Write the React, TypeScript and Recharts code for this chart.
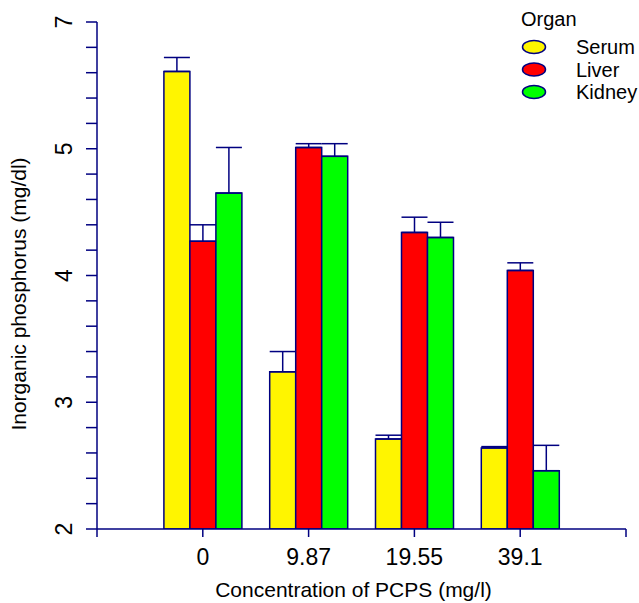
import React from 'react';
import { BarChart, Bar, XAxis, YAxis, ErrorBar, Legend } from 'recharts';

const categories = ['0', '9.87', '19.55', '39.1'];
const seriesNames = ['Serum', 'Liver', 'Kidney'];
const serum = [5.61, 3.24, 2.71, 2.64];
const serumErr = [0.11, 0.16, 0.03, 0.01];
const liver = [4.27, 5.01, 4.34, 4.04];
const liverErr = [0.13, 0.03, 0.12, 0.06];
const kidney = [4.65, 4.94, 4.3, 2.46];
const kidneyErr = [0.36, 0.1, 0.12, 0.2];

const yTickValues = [2, 3, 4, 5, 6];
const yTickLabels = ['2', '3', '4', '5', '7'];
const xTicks = [0, 1, 2, 3, 4, 5];

const NAVY = '#000080';
const FONT = '"Liberation Sans", Arial, Helvetica, sans-serif';
const colors = ['#FFF500', '#FF0000', '#00FF00'];

const data = categories.map((c, i) => ({
  pos: i + 1,
  label: c,
  serum: serum[i],
  serumErr: [0, serumErr[i]],
  liver: liver[i],
  liverErr: [0, liverErr[i]],
  kidney: kidney[i],
  kidneyErr: [0, kidneyErr[i]],
}));

const yMinor: number[] = [];
for (let i = 0; i <= 20; i++) yMinor.push(Math.round((2 + i * 0.2) * 10) / 10);

const YTick = (props: any) => {
  const { x, y, payload } = props;
  const idx = yTickValues.indexOf(payload.value);
  if (idx < 0) return <g />;
  return (
    <text
      x={x}
      y={y}
      transform={`rotate(-90 ${x} ${y})`}
      textAnchor="middle"
      fontSize={23}
      fill="#000"
      fontFamily={FONT}
    >
      {yTickLabels[idx]}
    </text>
  );
};

const renderLegend = (props: any) => {
  const payload = [...(props.payload || [])].sort(
    (a: any, b: any) => seriesNames.indexOf(a.value) - seriesNames.indexOf(b.value)
  );
  return (
    <svg width={139} height={110} style={{ fontFamily: FONT }}>
      <text x={21} y={26} fontSize={20} fill="#000">
        Organ
      </text>
      {payload.map((p: any, i: number) => {
        const cy = 47 + i * 22.5;
        return (
          <g key={i}>
            <ellipse cx={34} cy={cy} rx={11.5} ry={6.5} fill={p.color} stroke={NAVY} strokeWidth={1.5} />
            <text x={76} y={cy + 7} fontSize={20} fill="#000">
              {p.value}
            </text>
          </g>
        );
      })}
    </svg>
  );
};

export default function App() {
  return (
    <div style={{ position: 'absolute', left: 0, top: 0, width: 639, height: 603, background: '#fff' }}>
      <BarChart
        width={639}
        height={603}
        data={data}
        margin={{ top: 22, right: 13, bottom: 0, left: 37 }}
        barSize={26}
        barGap={0}
        style={{ fontFamily: FONT }}
      >
        <XAxis
          type="number"
          dataKey="pos"
          domain={[0, 5]}
          ticks={xTicks}
          interval={0}
          height={74}
          tickSize={8}
          tickMargin={12}
          tickFormatter={(v: number) => categories[v - 1] ?? ''}
          tick={{ fontSize: 23, fill: '#000', fontFamily: FONT }}
          axisLine={{ stroke: NAVY, strokeWidth: 1.5 }}
          tickLine={{ stroke: NAVY, strokeWidth: 1.5 }}
          allowDataOverflow
          label={{
            value: 'Concentration of PCPS (mg/l)',
            position: 'insideBottom',
            offset: 6,
            dx: -8,
            style: { fontSize: 21, fill: '#000', fontFamily: FONT },
          }}
        />
        <YAxis
          type="number"
          domain={[2, 6]}
          ticks={yMinor}
          interval={0}
          width={60}
          tickSize={11}
          tickMargin={14}
          tick={<YTick />}
          axisLine={{ stroke: NAVY, strokeWidth: 1.5 }}
          tickLine={{ stroke: NAVY, strokeWidth: 1.5 }}
          allowDataOverflow
          label={() => (
            <text
              x={26}
              y={294}
              transform="rotate(-90 26 294)"
              textAnchor="middle"
              fontSize={21}
              fill="#000"
              fontFamily={FONT}
            >
              Inorganic phosphorus (mg/dl)
            </text>
          )}
        />
        <Legend
          layout="vertical"
          align="center"
          verticalAlign="middle"
          wrapperStyle={{ left: 500, top: 0, width: 139, height: 110 }}
          content={renderLegend}
        />
        <Bar dataKey="serum" name={seriesNames[0]} fill={colors[0]} stroke={NAVY} strokeWidth={1.5} isAnimationActive={false}>
          <ErrorBar dataKey="serumErr" width={13} stroke={NAVY} strokeWidth={1.5} direction="y" />
        </Bar>
        <Bar dataKey="liver" name={seriesNames[1]} fill={colors[1]} stroke={NAVY} strokeWidth={1.5} isAnimationActive={false}>
          <ErrorBar dataKey="liverErr" width={13} stroke={NAVY} strokeWidth={1.5} direction="y" />
        </Bar>
        <Bar dataKey="kidney" name={seriesNames[2]} fill={colors[2]} stroke={NAVY} strokeWidth={1.5} isAnimationActive={false}>
          <ErrorBar dataKey="kidneyErr" width={13} stroke={NAVY} strokeWidth={1.5} direction="y" />
        </Bar>
      </BarChart>
    </div>
  );
}
